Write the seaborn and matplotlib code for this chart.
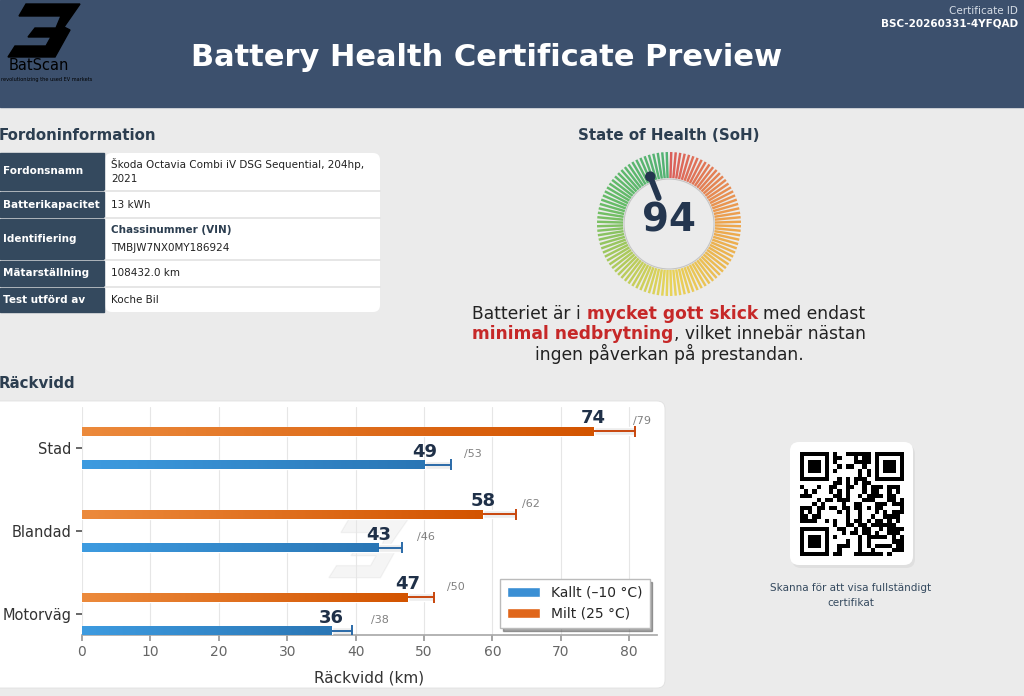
import hashlib
import numpy as np
import pandas as pd
import seaborn as sns
import matplotlib.pyplot as plt
from matplotlib.patches import Rectangle, FancyBboxPatch, Polygon, Circle, Patch
from matplotlib.collections import LineCollection
from matplotlib.colors import LinearSegmentedColormap, to_rgb

# ---- data ----
categories = ["Stad", "Blandad", "Motorväg"]
range_cold = [50.1, 43.3, 36.5]
range_mild = [74.8, 58.6, 47.6]
max_cold = [54.0, 46.8, 39.4]
max_mild = [80.8, 63.5, 51.4]
shown_cold = [49, 43, 36]
shown_mild = [74, 58, 47]
shown_max_cold = [53, 46, 38]
shown_max_mild = [79, 62, 50]
label_cold = "Kallt (–10 °C)"
label_mild = "Milt (25 °C)"

soh = 94
cert_id = "BSC-20260331-4YFQAD"
vehicle_rows = [
    ("Fordonsnamn", ["Škoda Octavia Combi iV DSG Sequential, 204hp,", "2021"]),
    ("Batterikapacitet", ["13 kWh"]),
    ("Identifiering", ["Chassinummer (VIN)", "TMBJW7NX0MY186924"]),
    ("Mätarställning", ["108432.0 km"]),
    ("Test utförd av", ["Koche Bil"]),
]
row_spans = [(153, 190), (192, 217), (219, 259), (261, 286), (288, 312)]

BG = "#ebebeb"
HEADER = "#3c506d"
DARK = "#2c3e50"
BLUE = "#3a8fd4"
ORANGE = "#e0661a"

sns.set_theme(style="whitegrid")
plt.rcParams["font.family"] = ["DejaVu Sans"]

fig = plt.figure(figsize=(10.24, 6.96), dpi=100, facecolor=BG)
bg = fig.add_axes([0, 0, 1, 1], zorder=0)
bg.set_xlim(0, 1024)
bg.set_ylim(696, 0)
bg.axis("off")
bg.set_facecolor(BG)

# header
bg.add_patch(Rectangle((0, 0), 1024, 107, color=HEADER, zorder=1))
bg.text(487, 57, "Battery Health Certificate Preview", color="white", fontsize=22,
        fontweight="bold", ha="center", va="center", zorder=3)
bg.text(1018, 11, "Certificate ID", color="#d5dce5", fontsize=7.5, ha="right", va="center", zorder=3)
bg.text(1018, 23, cert_id, color="white", fontsize=7.5, fontweight="bold", ha="right", va="center", zorder=3)

logo = [(26, 4), (80, 4), (64, 27), (70, 30), (55, 57), (8, 57), (15, 46), (46, 46),
        (51, 37), (28, 37), (35, 28), (56, 28), (61, 16), (19, 16)]
bg.add_patch(Polygon(logo, closed=True, color="black", zorder=3))
bg.text(39, 66, "BatScan", fontsize=10.5, color="black", ha="center", va="center", zorder=3)
bg.text(1, 79, "revolutionizing the used EV markets", fontsize=3.6, color="black",
        ha="left", va="center", zorder=3)

# vehicle table
bg.text(-1, 136, "Fordoninformation", fontsize=10.8, fontweight="bold", color=DARK, ha="left", va="center")
bg.add_patch(FancyBboxPatch((105, 153), 275, 159, boxstyle="round,pad=0,rounding_size=7",
                            facecolor="white", edgecolor="none", zorder=1))
for (lab, vals), (y0, y1) in zip(vehicle_rows, row_spans):
    bg.add_patch(Rectangle((0, y0), 104, y1 - y0, color="#34495e", zorder=2))
    bg.text(3, (y0 + y1) / 2, lab, fontsize=7.5, fontweight="bold", color="white", ha="left", va="center", zorder=3)
    if y1 < 312:
        bg.plot([105, 380], [y1 + 1, y1 + 1], color="#e2e2e2", lw=1.2, zorder=2)
    yc = (y0 + y1) / 2
    if len(vals) == 1:
        bg.text(111, yc, vals[0], fontsize=7.5, color="#222222", ha="left", va="center", zorder=3)
    else:
        bold_first = lab == "Identifiering"
        bg.text(111, yc - 7.5 if not bold_first else yc - 9, vals[0], fontsize=7.5,
                color=DARK if bold_first else "#222222",
                fontweight="bold" if bold_first else "normal", ha="left", va="center", zorder=3)
        bg.text(111, yc + 7 if not bold_first else yc + 9, vals[1], fontsize=7.5, color="#222222",
                ha="left", va="center", zorder=3)

# gauge
bg.text(669, 136, "State of Health (SoH)", fontsize=10.8, fontweight="bold", color=DARK, ha="center", va="center")
cx, cy = 669, 224
gauge_cmap = LinearSegmentedColormap.from_list(
    "soh", [(0, "#d9534f"), (0.25, "#eea040"), (0.5, "#e8d24e"), (0.65, "#a8c850"),
            (0.8, "#5cb85c"), (1.0, "#45ad6a")])
n_ticks = 100
segs, cols = [], []
for i in range(n_ticks):
    f = (i + 0.5) / n_ticks
    a = f * 2 * np.pi
    segs.append([(cx + 46 * np.sin(a), cy - 46 * np.cos(a)), (cx + 72 * np.sin(a), cy - 72 * np.cos(a))])
    cols.append(gauge_cmap(f))
bg.add_collection(LineCollection(segs, colors=cols, linewidths=1.75, alpha=0.92, zorder=2))
bg.add_patch(Circle((cx, cy), 45, facecolor=BG, edgecolor="#c4c4c4", lw=0.8, zorder=3))
na = soh / 100 * 2 * np.pi
bg.plot([cx + 28 * np.sin(na), cx + 51 * np.sin(na)], [cy - 28 * np.cos(na), cy - 51 * np.cos(na)],
        color="#24364f", lw=4.2, solid_capstyle="round", zorder=4)
bg.add_patch(Circle((cx + 51 * np.sin(na), cy - 51 * np.cos(na)), 4.5, color="#24364f", zorder=4))
bg.text(cx, 220, str(soh), fontsize=28, fontweight="bold", color="#24364f", ha="center", va="center", zorder=5)

# rich paragraph
renderer = fig.canvas.get_renderer()
RED = "#c62828"
para = [
    [("Batteriet är i", False, False), ("mycket gott skick", True, True), ("med endast", False, True)],
    [("minimal nedbrytning", True, False), (", vilket innebär nästan", False, False)],
    [("ingen påverkan på prestandan.", False, False)],
]
fs_para = 12.3
probe1 = bg.text(0, -50, "x x", fontsize=fs_para)
probe2 = bg.text(0, -50, "xx", fontsize=fs_para)
space_w = probe1.get_window_extent(renderer).width - probe2.get_window_extent(renderer).width
probe1.remove()
probe2.remove()
for line, y in zip(para, [314, 334, 354]):
    items = []
    total = 0
    for s, bold, sp in line:
        t = bg.text(0, y, s, fontsize=fs_para, fontweight="bold" if bold else "normal",
                    color=RED if bold else "#222222", ha="left", va="center")
        w = t.get_window_extent(renderer).width
        gap = space_w if sp else 0
        items.append((t, gap, w))
        total += gap + w
    x = 669 - total / 2
    for t, gap, w in items:
        x += gap
        t.set_x(x)
        x += w

# range panel
bg.text(-1, 383, "Räckvidd", fontsize=10.8, fontweight="bold", color=DARK, ha="left", va="center")
bg.add_patch(FancyBboxPatch((-10, 401), 675, 287, boxstyle="round,pad=0,rounding_size=8",
                            facecolor="white", edgecolor="#e0e0e0", lw=0.6, zorder=1))
wm = [(x * 1.1 + 320, y * 1.1 + 515) for x, y in logo]
bg.add_patch(Polygon(wm, closed=True, color="#000000", alpha=0.04, zorder=2))

# QR box
bg.add_patch(FancyBboxPatch((792, 445), 123, 123, boxstyle="round,pad=0,rounding_size=9",
                            facecolor="#d4d4d4", edgecolor="none", alpha=0.5, zorder=1))
bg.add_patch(FancyBboxPatch((790, 442), 123, 123, boxstyle="round,pad=0,rounding_size=9",
                            facecolor="white", edgecolor="none", zorder=2))
N = 25
digest = b""
k = 0
while len(digest) * 8 < N * N:
    digest += hashlib.sha256(f"{cert_id}-{k}".encode()).digest()
    k += 1
bits = np.unpackbits(np.frombuffer(digest, dtype=np.uint8))[: N * N].reshape(N, N).astype(float)
for r0, c0 in [(0, 0), (0, N - 7), (N - 7, 0)]:
    bits[max(r0 - 1, 0):r0 + 8, max(c0 - 1, 0):c0 + 8] = 0
    bits[r0:r0 + 7, c0:c0 + 7] = 1
    bits[r0 + 1:r0 + 6, c0 + 1:c0 + 6] = 0
    bits[r0 + 2:r0 + 5, c0 + 2:c0 + 5] = 1
bg.imshow(bits, cmap="gray_r", interpolation="nearest", extent=(800, 904, 556, 452),
          aspect="auto", zorder=3, vmin=0, vmax=1)
bg.set_xlim(0, 1024)
bg.set_ylim(696, 0)
bg.text(851, 588, "Skanna för att visa fullständigt", fontsize=7.5, color="#34495e", ha="center", va="center")
bg.text(851, 603, "certifikat", fontsize=7.5, color="#34495e", ha="center", va="center")

# ---- range bar chart ----
ax = fig.add_axes([82 / 1024, 1 - 634.75 / 696, (656.6 - 82) / 1024, (634.75 - 406.5) / 696], zorder=2)
ax.set_facecolor("none")
df = pd.DataFrame({
    "Körning": categories * 2,
    "Räckvidd": range_mild + range_cold,
    "Villkor": [label_mild] * 3 + [label_cold] * 3,
})
palette = {label_mild: ORANGE, label_cold: BLUE}
sns.barplot(data=df, y="Körning", x="Räckvidd", hue="Villkor", hue_order=[label_mild, label_cold],
            palette=palette, orient="h", width=0.8, gap=0.73, errorbar=None, legend=False,
            saturation=1, ax=ax, zorder=3)

grad = {
    label_mild: LinearSegmentedColormap.from_list("o", ["#ec8a3c", "#d35400"]),
    label_cold: LinearSegmentedColormap.from_list("b", ["#3d9be0", "#2a76b5"]),
}
err_col = {label_mild: "#c8460c", label_cold: "#2a6aa8"}
info = {
    label_mild: (range_mild, max_mild, shown_mild, shown_max_mild),
    label_cold: (range_cold, max_cold, shown_cold, shown_max_cold),
}
ramp = np.linspace(0, 1, 256).reshape(1, -1)
bars = list(ax.patches)
for p in bars:
    fc = p.get_facecolor()[:3]
    key = label_mild if np.allclose(fc, to_rgb(ORANGE), atol=0.02) else label_cold
    x0, y0, w, h = p.get_x(), p.get_y(), p.get_width(), p.get_height()
    yc = y0 + h / 2
    idx = int(round(yc))
    vals, maxs, shown, shown_max = info[key]
    im = ax.imshow(ramp, cmap=grad[key], extent=(x0, x0 + w, y0 + h, y0), aspect="auto", zorder=4)
    im.set_clip_path(p)
    ax.barh(yc, maxs[idx] - vals[idx], left=vals[idx], height=h * 0.9, color="#ededed", zorder=2)
    ax.hlines(yc, vals[idx], maxs[idx], color=err_col[key], lw=1.4, zorder=5)
    ax.vlines(maxs[idx], yc - 0.065, yc + 0.065, color=err_col[key], lw=1.4, zorder=5)
    ax.text(vals[idx], yc - 0.157, str(shown[idx]), ha="center", va="center", fontsize=13,
            fontweight="bold", color="#1f3048", zorder=6)
    ax.text(vals[idx] + 5.7, yc - 0.127, f"/{shown_max[idx]}", ha="left", va="center",
            fontsize=8, color="#808080", zorder=6)

ax.set_xlim(0, 84)
ax.set_ylim(2.25, -0.5)
ax.set_xticks(range(0, 81, 10))
ax.grid(axis="x", color="#e6e6e6", lw=0.8)
ax.grid(axis="y", visible=False)
for s in ["top", "right", "left"]:
    ax.spines[s].set_visible(False)
ax.spines["bottom"].set_color("#aaaaaa")
ax.tick_params(axis="y", labelsize=10.5, labelcolor="#333333", length=4, color="#555555", left=True)
ax.tick_params(axis="x", labelsize=10, labelcolor="#666666", length=4, color="#999999", bottom=True)
ax.set_xlabel("Räckvidd (km)", fontsize=11, color="#333333", labelpad=8)
ax.set_ylabel("")
handles = [Patch(facecolor=BLUE), Patch(facecolor=ORANGE)]
leg = ax.legend(handles, [label_cold, label_mild], loc="lower right", fontsize=10, frameon=True,
                shadow=True, fancybox=False, edgecolor="#bbbbbb", handlelength=2.4, borderpad=0.5)
leg.get_frame().set_facecolor("white")
leg.set_zorder(10)

fig.savefig("out.png", dpi=100, facecolor=BG)
